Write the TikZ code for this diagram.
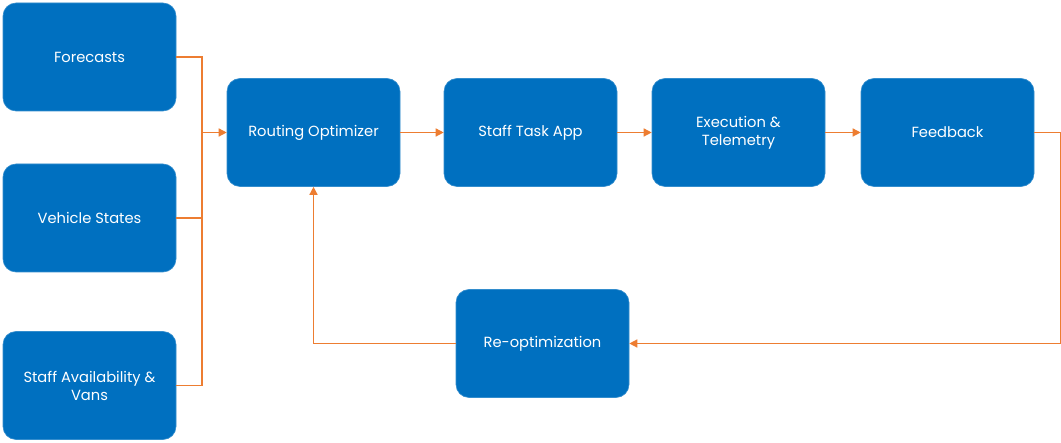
\documentclass[tikz,border=0pt]{standalone}
\usepackage{fontspec}
\setmainfont{Poppins}
\usetikzlibrary{arrows.meta}
\definecolor{boxblue}{HTML}{0070C0}
\definecolor{lineorange}{HTML}{ED7D31}
\begin{document}
\begin{tikzpicture}[x=1pt,y=-1pt,
  box/.style={draw=boxblue!80!white, line width=0.6pt, fill=boxblue, rounded corners=13pt,
    minimum width=173pt, minimum height=108pt, inner sep=0pt,
    text=white, align=center, font=\fontsize{14.7}{18}\selectfont},
  link/.style={draw=lineorange, line width=1.4pt},
  arr/.style={link, -{Triangle[length=8pt,width=8pt]}}]
\useasboundingbox[fill=white] (0,0) rectangle (1061,443);
\node[box] (fc) at (89.5,57) {Forecasts};
\node[box] (vs) at (89.5,218) {Vehicle States};
\node[box] (sa) at (89.5,385.5) {Staff Availability \&\\Vans};
\node[box] (ro) at (313.5,132.5) {Routing Optimizer};
\node[box] (st) at (530.5,132.5) {Staff Task App};
\node[box] (ex) at (738.5,132.5) {Execution \&\\Telemetry};
\node[box] (fb) at (947.5,132.5) {Feedback};
\node[box] (re) at (542.5,343.5) {Re-optimization};
\coordinate (j) at (202,132.5);
\draw[link] (fc.east) -| (202,385.5) -- (sa.east);
\draw[link] (vs.east) -- (vs.east -| j);
\draw[arr] (j) -- (ro.west);
\draw[arr] (ro.east) -- (st.west);
\draw[arr] (st.east) -- (ex.west);
\draw[arr] (ex.east) -- (fb.west);
\draw[arr] (fb.east) -- ++(26,0) |- (re.east);
\draw[arr] (re.west) -| (ro.south);
\end{tikzpicture}
\end{document}
